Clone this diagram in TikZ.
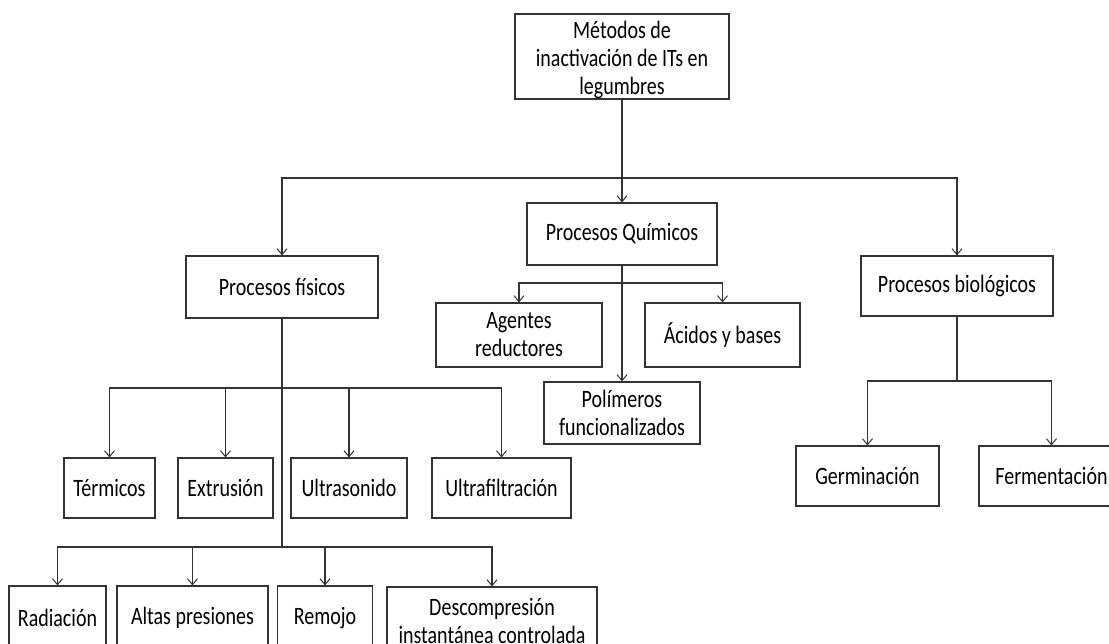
\documentclass[tikz,border=0pt]{standalone}
\usepackage{fontspec}
\setmainfont{Carlito}[FakeStretch=0.8]
\usetikzlibrary{arrows.meta}
\tikzset{
  txt/.style={align=center, inner sep=0pt, font=\fontsize{25}{28}\selectfont},
  box/.style={txt, draw=black!80, line width=1.1pt, fill=white},
  conn/.style={draw=black!80, line width=1.1pt},
  arr/.style={conn, -{Straight Barb[length=6pt,width=10pt,line width=1pt]}}
}
\begin{document}
\begin{tikzpicture}[x=1pt,y=-1pt]
\useasboundingbox (0,0) rectangle (1109,643);
\fill[white] (0,0) rectangle (1109,643);

% level 0
\node[box, minimum width=214, minimum height=85] (top) at (622,56.5) {};
\node[txt] (toptext) at (622,60)
  {Métodos de\\inactivación de ITs en\\legumbres};

% level 1
\node[box, minimum width=192, minimum height=62] (fis) at (282,287) {Procesos físicos};
\node[box, minimum width=190, minimum height=62] (qui) at (622,234) {Procesos Químicos};
\node[box, minimum width=192, minimum height=60] (bio) at (957,286) {Procesos biológicos};

% chemical
\node[box, minimum width=166, minimum height=64] (age) at (519,335) {Agentes\\reductores};
\node[box, minimum width=155, minimum height=64] (aci) at (722.5,335) {Ácidos y bases};
\node[box, minimum width=156, minimum height=62] (pol) at (622,413) {Polímeros\\funcionalizados};

% physical row 1
\node[box, minimum width=91, minimum height=60] (ter) at (109.5,488) {Térmicos};
\node[box, minimum width=95, minimum height=60] (ext) at (225.5,488) {Extrusión};
\node[box, minimum width=116, minimum height=60] (ult) at (349,488) {Ultrasonido};
\node[box, minimum width=139, minimum height=60] (ufi) at (501.5,488) {Ultrafiltración};

% physical row 2
\node[box, minimum width=97, minimum height=64] (rad) at (57.5,618) {Radiación};
\node[box, minimum width=151, minimum height=64] (alt) at (192.5,618) {Altas presiones};
\node[box, minimum width=94.5, minimum height=64] (rem) at (325,618) {Remojo};
\node[box, minimum width=210, minimum height=68] (des) at (492,621)
  {Descompresión\\instantánea controlada};

% biological
\node[box, minimum width=143, minimum height=60] (ger) at (867.5,476) {Germinación};
\node[box, minimum width=145, minimum height=60] (fer) at (1051.5,476) {Fermentación};

% junctions
\coordinate (j1) at (622,178);
\coordinate (j2) at (622,283);
\coordinate (j3) at (282,388);
\coordinate (j4) at (282,547);
\coordinate (j5) at (957,381);

% connectors
\draw[arr] (top.south) -- (qui.north);
\draw[arr] (j1) -| (fis.north);
\draw[arr] (j1) -| (bio.north);

\draw[arr] (qui.south) -- (pol.north);
\draw[arr] (j2) -| (age.north);
\draw[arr] (j2) -| (aci.north);

\draw[conn] (fis.south) -- (j4);
\draw[arr] (j3) -| (ter.north);
\draw[arr] (j3) -| (ext.north);
\draw[arr] (j3) -| (ult.north);
\draw[arr] (j3) -| (ufi.north);
\draw[arr] (j4) -| (rad.north);
\draw[arr] (j4) -| (alt.north);
\draw[arr] (j4) -| (rem.north);
\draw[arr] (j4) -| (des.north);

\draw[conn] (bio.south) -- (j5);
\draw[arr] (j5) -| (ger.north);
\draw[arr] (j5) -| (fer.north);
\end{tikzpicture}
\end{document}
